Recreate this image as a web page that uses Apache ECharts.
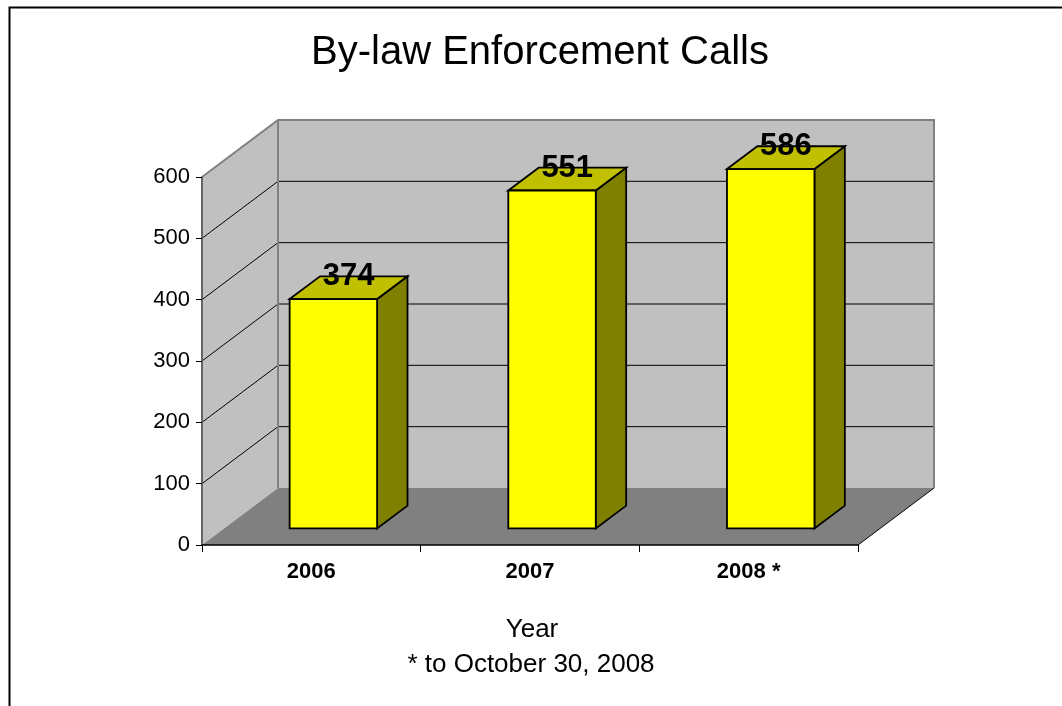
<!DOCTYPE html>
<html>
<head>
<meta charset="utf-8">
<title>By-law Enforcement Calls</title>
<script src="https://cdn.jsdelivr.net/npm/echarts@6/dist/echarts.min.js"></script>
<style>
  html, body { margin: 0; padding: 0; background: #fff; }
  #chart { width: 1062px; height: 706px; }
</style>
</head>
<body>
<div id="chart"></div>
<script>
// Chart data
const categories = ['2006', '2007', '2008 *'];
const calls = [374, 551, 586];
const yTicks = [0, 100, 200, 300, 400, 500, 600];

const FONT = '"Liberation Sans", Arial, Helvetica, sans-serif';

// Oblique depth of the 3D box (pixels), and where each bar sits in that depth
const DX = 76, DY = -57;
const F0 = 0.29, F1 = 0.69;

const chart = echarts.init(document.getElementById('chart'), null, { renderer: 'canvas' });

function wallsItem(params, api) {
  const cs = params.coordSys;
  const x0 = cs.x, x1 = cs.x + cs.width;
  const yb = api.coord([0, yTicks[0]])[1];
  const yt = api.coord([0, yTicks[yTicks.length - 1]])[1];
  const children = [];
  // left wall
  children.push({ type: 'polygon', shape: { points: [[x0, yb], [x0, yt], [x0 + DX, yt + DY], [x0 + DX, yb + DY]] },
    style: { fill: '#c0c0c0', stroke: null } });
  // back wall
  children.push({ type: 'rect', shape: { x: x0 + DX, y: yt + DY, width: x1 - x0, height: yb - yt },
    style: { fill: '#c0c0c0', stroke: null } });
  // floor
  children.push({ type: 'polygon', shape: { points: [[x0, yb], [x1, yb], [x1 + DX, yb + DY], [x0 + DX, yb + DY]] },
    style: { fill: '#808080', stroke: null } });
  // gridlines on back and left walls
  yTicks.slice(1, -1).forEach(function (v) {
    const y = api.coord([0, v])[1];
    children.push({ type: 'line', shape: { x1: x0 + DX, y1: y + DY, x2: x1 + DX, y2: y + DY },
      style: { stroke: '#000', lineWidth: 1 } });
    children.push({ type: 'line', shape: { x1: x0, y1: y, x2: x0 + DX, y2: y + DY },
      style: { stroke: '#000', lineWidth: 1 } });
  });
  // wall outlines
  children.push({ type: 'polyline', shape: { points: [[x0, yt], [x0 + DX, yt + DY], [x1 + DX, yt + DY], [x1 + DX, yb + DY]] },
    style: { stroke: '#808080', lineWidth: 2, fill: null } });
  children.push({ type: 'line', shape: { x1: x0 + DX, y1: yt + DY, x2: x0 + DX, y2: yb + DY },
    style: { stroke: '#808080', lineWidth: 2 } });
  children.push({ type: 'line', shape: { x1: x0, y1: yt, x2: x0, y2: yb },
    style: { stroke: '#808080', lineWidth: 1.5 } });
  // floor right edge
  children.push({ type: 'line', shape: { x1: x1, y1: yb, x2: x1 + DX, y2: yb + DY },
    style: { stroke: '#000', lineWidth: 1 } });
  return { type: 'group', children: children };
}

function barItem(params, api) {
  const idx = api.value(0);
  const val = api.value(1);
  const base = api.coord([idx, 0]);
  const top = api.coord([idx, val]);
  const band = api.size([1, 0])[0];
  const w = band * 0.4;
  const fx = base[0] + F0 * DX - w / 2;
  const fyB = base[1] + F0 * DY;
  const fyT = top[1] + F0 * DY;
  const bdx = (F1 - F0) * DX, bdy = (F1 - F0) * DY;
  const edge = { stroke: '#000', lineWidth: 1.8, lineJoin: 'miter' };
  return {
    type: 'group',
    children: [
      { type: 'polygon', shape: { points: [[fx + w, fyT], [fx + w + bdx, fyT + bdy], [fx + w + bdx, fyB + bdy], [fx + w, fyB]] },
        style: Object.assign({ fill: '#808000' }, edge) },
      { type: 'polygon', shape: { points: [[fx, fyT], [fx + bdx, fyT + bdy], [fx + w + bdx, fyT + bdy], [fx + w, fyT]] },
        style: Object.assign({ fill: '#c0c000' }, edge) },
      { type: 'rect', shape: { x: fx, y: fyT, width: w, height: fyB - fyT },
        style: Object.assign({ fill: '#ffff00' }, edge) },
      { type: 'text', z2: 10,
        style: { legacy: false, text: String(val), x: fx + w / 2 + bdx / 2, y: fyT + bdy / 2 - 11,
          font: 'bold 31px ' + FONT, fill: '#000', align: 'center', verticalAlign: 'middle' } }
    ]
  };
}

const option = {
  animation: false,
  backgroundColor: '#ffffff',
  title: [
    { text: 'By-law Enforcement Calls', left: 540, top: 33, padding: 0, textAlign: 'center',
      textStyle: { fontFamily: FONT, fontSize: 40, fontWeight: 'normal', color: '#000' } },
    { text: 'Year', left: 532, top: 617, padding: 0, textAlign: 'center',
      textStyle: { fontFamily: FONT, fontSize: 26, fontWeight: 'normal', color: '#000' } },
    { text: '* to October 30, 2008', left: 531, top: 652, padding: 0, textAlign: 'center',
      textStyle: { fontFamily: FONT, fontSize: 26, fontWeight: 'normal', color: '#000' } }
  ],
  graphic: [
    { type: 'rect', left: 7, top: 5, shape: { x: 0, y: 0, width: 1200, height: 900 },
      style: { fill: null, stroke: '#000', lineWidth: 2 }, silent: true }
  ],
  grid: { left: 202, right: 204, top: 177, bottom: 161, containLabel: false },
  xAxis: {
    type: 'category',
    data: categories,
    boundaryGap: true,
    z: 5,
    axisLine: { show: true, lineStyle: { color: '#000', width: 1.5 } },
    axisTick: { show: true, length: 7, alignWithLabel: false, lineStyle: { color: '#000', width: 1 } },
    axisLabel: { margin: 16, fontFamily: FONT, fontSize: 22, fontWeight: 'bold', color: '#000' },
    splitLine: { show: false }
  },
  yAxis: {
    type: 'value',
    min: 0, max: 600, interval: 100,
    z: 5,
    axisLine: { show: true, lineStyle: { color: '#555', width: 1.5 } },
    axisTick: { show: true, length: 6, lineStyle: { color: '#000', width: 1 } },
    axisLabel: { margin: 12, fontFamily: FONT, fontSize: 22, color: '#000' },
    splitLine: { show: false }
  },
  series: [
    { type: 'custom', name: 'walls', z: 1, silent: true, renderItem: wallsItem,
      data: [[0, 0]], encode: { x: 0, y: 1 } },
    { type: 'custom', name: 'Calls', z: 3, renderItem: barItem,
      data: calls.map(function (v, i) { return [i, v]; }), encode: { x: 0, y: 1 } }
  ]
};

chart.setOption(option);
</script>
</body>
</html>
